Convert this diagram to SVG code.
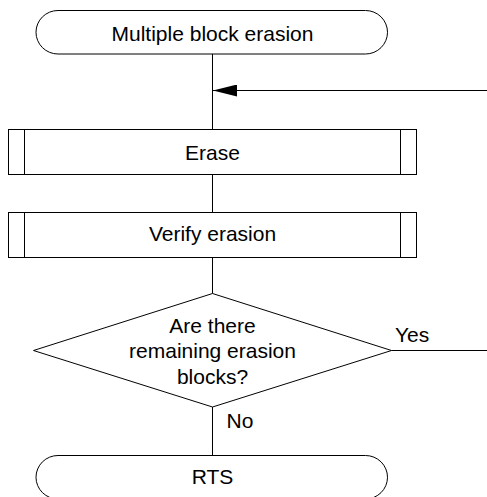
<svg xmlns="http://www.w3.org/2000/svg" width="487" height="497" viewBox="0 0 487 497">
<style>
.s{fill:#fff;stroke:#000;stroke-width:1}
.l{fill:none;stroke:#000;stroke-width:1}
.t{font-family:"Liberation Sans",Arial,sans-serif;font-size:21px;fill:#000;text-anchor:middle}
.ts{font-family:"Liberation Sans",Arial,sans-serif;font-size:21px;fill:#000}
</style>
<defs>
<marker id="ah" markerWidth="24" markerHeight="12" refX="24" refY="6" orient="auto" markerUnits="userSpaceOnUse">
<path d="M0,0 L24,6 L0,12 Z" fill="#000"/>
</marker>
</defs>
<rect width="487" height="497" fill="#fff"/>
<g id="connectors">
<line class="l" x1="212.5" y1="54" x2="212.5" y2="129.5"/>
<line class="l" x1="487" y1="90.5" x2="213" y2="90.5" marker-end="url(#ah)"/>
<line class="l" x1="212.5" y1="174.5" x2="212.5" y2="212.5"/>
<line class="l" x1="212.5" y1="257.5" x2="212.5" y2="293.5"/>
<line class="l" x1="391.5" y1="350.5" x2="487" y2="350.5"/>
<line class="l" x1="212.5" y1="407" x2="212.5" y2="455.5"/>
<text class="ts" x="395" y="341.5">Yes</text>
<text class="ts" x="226.5" y="428">No</text>
</g>
<g id="start">
<rect class="s" x="36" y="10.5" width="351.5" height="43.5" rx="22" ry="22"/>
<text class="t" x="212.5" y="40.5">Multiple block erasion</text>
</g>
<g id="erase">
<rect class="s" x="8.5" y="129.5" width="408" height="45"/>
<line class="l" x1="24.5" y1="129.5" x2="24.5" y2="174.5"/>
<line class="l" x1="400.5" y1="129.5" x2="400.5" y2="174.5"/>
<text class="t" x="212.5" y="160">Erase</text>
</g>
<g id="verify">
<rect class="s" x="8.5" y="212.5" width="408" height="45"/>
<line class="l" x1="24.5" y1="212.5" x2="24.5" y2="257.5"/>
<line class="l" x1="400.5" y1="212.5" x2="400.5" y2="257.5"/>
<text class="t" x="212.5" y="240.5">Verify erasion</text>
</g>
<g id="decision">
<polygon class="s" points="212.5,293.5 391.5,350.5 212.5,407 33.5,350.5"/>
<text class="t" x="212.5" y="332.5">Are there</text>
<text class="t" x="212.5" y="358">remaining erasion</text>
<text class="t" x="212.5" y="384">blocks?</text>
</g>
<g id="end">
<rect class="s" x="36" y="455.5" width="351.5" height="43.5" rx="22" ry="22"/>
<text class="t" x="212.5" y="483.5">RTS</text>
</g>
</svg>
